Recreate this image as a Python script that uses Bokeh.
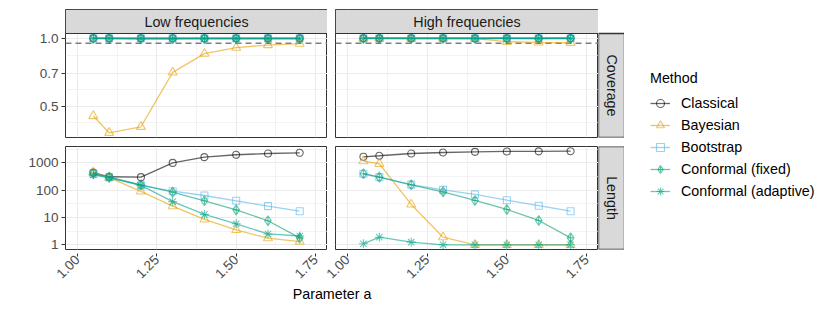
import math
from bokeh.plotting import figure
from bokeh.layouts import row, column, Spacer
from bokeh.models import (FixedTicker, PrintfTickFormatter, Span, Label, Range1d,
                          Legend, LegendItem, LinearScale)
from bokeh.core.properties import value
from bokeh.embed import file_html
from bokeh.resources import INLINE

# ---------------- data ----------------
x_values = [1.05, 1.1, 1.2, 1.3, 1.4, 1.5, 1.6, 1.7]
x_limits = [1.0, 1.75]
x_ticks = [1.0, 1.25, 1.5, 1.75]
x_minor = [1.125, 1.375, 1.625]

methods = ["Classical", "Bayesian", "Bootstrap", "Conformal (fixed)", "Conformal (adaptive)"]
panels = ["Low frequencies", "High frequencies"]
rows_names = ["Coverage", "Length"]

# Coverage, low frequencies
cov_low_classical = [1.0, 1.0, 1.0, 1.0, 1.0, 1.0, 1.0, 1.0]
cov_low_bayesian = [0.453, 0.382, 0.406, 0.706, 0.855, 0.909, 0.933, 0.947]
cov_low_bootstrap = [1.0, 1.0, 1.0, 1.0, 1.0, 1.0, 1.0, 1.0]
cov_low_conf_fixed = [0.998, 0.997, 0.994, 0.995, 0.996, 0.995, 0.996, 0.995]
cov_low_conf_adapt = [0.995, 0.996, 0.993, 0.992, 0.995, 0.994, 0.995, 0.994]
# Coverage, high frequencies
cov_high_classical = [1.0, 1.0, 1.0, 1.0, 1.0, 1.0, 1.0, 1.0]
cov_high_bayesian = [1.0, 1.0, 1.0, 1.0, 0.995, 0.965, 0.958, 0.955]
cov_high_bootstrap = [1.0, 1.0, 1.0, 1.0, 1.0, 1.0, 1.0, 1.0]
cov_high_conf_fixed = [0.998, 0.998, 0.997, 0.998, 0.997, 0.998, 0.997, 0.998]
cov_high_conf_adapt = [0.997, 0.997, 0.996, 0.997, 0.996, 0.997, 0.996, 0.997]
# Length, low frequencies
len_low_classical = [440, 310, 300, 1000, 1620, 1980, 2200, 2340]
len_low_bayesian = [450, 290, 90, 26, 8.5, 3.5, 1.75, 1.32]
len_low_bootstrap = [400, 300, 150, 92, 64, 41, 26, 17]
len_low_conf_fixed = [400, 300, 158, 85, 41, 19, 7.6, 1.8]
len_low_conf_adapt = [365, 280, 150, 38, 13, 5.9, 2.5, 2.1]
# Length, high frequencies
len_high_classical = [1670, 1820, 2200, 2400, 2530, 2620, 2640, 2680]
len_high_bayesian = [1150, 930, 30, 1.9, 1.0, 1.0, 1.0, 1.0]
len_high_bootstrap = [400, 300, 160, 103, 70, 43, 27, 17]
len_high_conf_fixed = [400, 300, 158, 87, 42, 19.7, 7.8, 1.8]
len_high_conf_adapt = [1.09, 1.9, 1.25, 1.0, 1.0, 1.0, 1.0, 1.0]

nominal_level = 0.95
cov_ticks = [0.5, 0.7, 1.0]
len_ticks = [1, 10, 100, 1000]

colors = ["#000000", "#E69F00", "#56B4E9", "#009E73", "#00A58A"]
markers = ["circle", "triangle", "square", "diamond_cross", "asterisk"]
marker_sizes = [7, 9, 7, 10, 9]
ALPHA = 0.6

FONT = "Liberation Sans"

data = {
    ("Coverage", 0): [cov_low_classical, cov_low_bayesian, cov_low_bootstrap, cov_low_conf_fixed, cov_low_conf_adapt],
    ("Coverage", 1): [cov_high_classical, cov_high_bayesian, cov_high_bootstrap, cov_high_conf_fixed, cov_high_conf_adapt],
    ("Length", 0): [len_low_classical, len_low_bayesian, len_low_bootstrap, len_low_conf_fixed, len_low_conf_adapt],
    ("Length", 1): [len_high_classical, len_high_bayesian, len_high_bootstrap, len_high_conf_fixed, len_high_conf_adapt],
}

# ---------------- geometry (pixels) ----------------
LEFT_PAD = 65          # left of low panels (axis labels)
GAP = 8                # between panels
LOW_FW, HIGH_FW = 262, 263
STRIP_W = 26
TOP_PAD = 9
STRIP_H = 24
COV_FH = 104
ROW_GAP = 9
LEN_FH = 103
LEN_MB = 3             # room below the length panels for the lowest y label
XAXIS_H = 33
TITLE_H = 19
AXIS_SHRINK = 5        # low x-axis figure ends a little left of its panel


def log_minor(ticks):
    t = sorted(ticks)
    lg = [math.log10(v) for v in t]
    mids = [10 ** ((lg[i] + lg[i + 1]) / 2) for i in range(len(lg) - 1)]
    lo = 10 ** (lg[0] - (lg[1] - lg[0]) / 2)
    hi = 10 ** (lg[-1] + (lg[-1] - lg[-2]) / 2)
    return [lo] + mids + [hi]


def log_limits(rowname):
    vals = [v for k in (0, 1) for s in data[(rowname, k)] for v in s]
    lo, hi = math.log10(min(vals)), math.log10(max(vals))
    pad = 0.05 * (hi - lo)
    return lo - pad, hi + pad


def x_bounds():
    span = x_limits[1] - x_limits[0]
    return x_limits[0] - 0.05 * span, x_limits[1] + 0.05 * span


def style_axis(ax, tick_out=4, standoff=3):
    ax.axis_line_color = None
    ax.major_tick_line_color = "#333333"
    ax.major_tick_out = tick_out
    ax.major_tick_in = 0
    ax.minor_tick_out = 0
    ax.minor_tick_in = 0
    ax.major_label_text_font = FONT
    ax.major_label_text_font_size = "13.5px"
    ax.major_label_text_color = "#4D4D4D"
    ax.major_label_standoff = standoff


def panel(rowname, col):
    lo, hi = log_limits(rowname)
    show_y = col == 0
    fw = LOW_FW if col == 0 else HIGH_FW
    ml = LEFT_PAD if col == 0 else GAP
    if rowname == "Coverage":
        # frame includes the facet strip on top
        fh = COV_FH + STRIP_H
        top_log = hi + (hi - lo) * STRIP_H / COV_FH
        mt, mb = TOP_PAD, ROW_GAP
    else:
        fh = LEN_FH
        top_log = hi
        mt, mb = 0, LEN_MB
    x0, x1 = x_bounds()
    xr = Range1d(x0, x1)
    kw = {}
    if rowname == "Coverage":
        kw = dict(extra_y_ranges={"strip": Range1d(0, COV_FH + STRIP_H)},
                  extra_y_scales={"strip": LinearScale()})
    p = figure(width=ml + fw, height=mt + fh + mb, x_range=xr,
               y_range=Range1d(10 ** lo, 10 ** top_log), y_axis_type="log",
               x_axis_location=None,
               y_axis_location="left" if show_y else None,
               output_backend="svg", toolbar_location=None,
               min_border_left=ml, min_border_right=0, min_border_top=mt, min_border_bottom=mb,
               **kw)
    p.background_fill_color = "white"
    p.border_fill_color = "white"
    p.outline_line_color = "#333333"
    p.outline_line_width = 1
    yt = cov_ticks if rowname == "Coverage" else len_ticks
    p.xgrid.ticker = FixedTicker(ticks=x_ticks, minor_ticks=x_minor)
    p.ygrid.ticker = FixedTicker(ticks=yt, minor_ticks=log_minor(yt))
    for g in (p.xgrid, p.ygrid):
        g.grid_line_color = "#EBEBEB"
        g.grid_line_width = 1.1
        g.minor_grid_line_color = "#EBEBEB"
        g.minor_grid_line_width = 0.6
    if show_y:
        ax = p.yaxis[0]
        ax.ticker = FixedTicker(ticks=yt)
        ax.formatter = PrintfTickFormatter(format="%.1f" if rowname == "Coverage" else "%d")
        style_axis(ax)
    if rowname == "Coverage":
        p.add_layout(Span(location=nominal_level, dimension="width", line_color="#7F7F7F",
                          line_width=1.4, line_dash="6 4", level="underlay"))
    for i, m in enumerate(methods):
        ys = data[(rowname, col)][i]
        p.line(x_values, ys, line_color=colors[i], line_alpha=ALPHA, line_width=1.3)
        p.scatter(x_values, ys, marker=markers[i], size=marker_sizes[i], fill_color=None,
                  line_color=colors[i], line_alpha=ALPHA, line_width=1.1)
    if rowname == "Coverage":
        p.quad(left=[x0], right=[x1], bottom=[COV_FH], top=[COV_FH + STRIP_H],
               y_range_name="strip", fill_color="#D9D9D9", line_color="#333333", line_width=1)
        p.text(x=[(x0 + x1) / 2], y=[COV_FH + STRIP_H / 2], text=[panels[col]],
               y_range_name="strip", text_align="center", text_baseline="middle",
               text_font=value(FONT), text_font_size="14.3px", text_color="#1A1A1A")
    return p


def x_axis_fig(col):
    """Bottom x axis for a column of panels (1px frame just below the panel)."""
    x0, x1 = x_bounds()
    if col == 0:
        ml, fw = LEFT_PAD, LOW_FW - AXIS_SHRINK
        xr = Range1d(x0, x0 + (x1 - x0) * fw / LOW_FW)
    else:
        ml, fw = GAP + AXIS_SHRINK, HIGH_FW
        xr = Range1d(x0, x1)
    p = figure(width=ml + fw, height=1 + XAXIS_H, x_range=xr, y_range=Range1d(0, 1),
               x_axis_location="below", y_axis_location=None,
               output_backend="svg", toolbar_location=None,
               min_border_left=ml, min_border_right=0, min_border_top=0,
               min_border_bottom=XAXIS_H)
    p.xgrid.visible = False
    p.ygrid.visible = False
    p.outline_line_color = None
    ax = p.xaxis[0]
    ax.ticker = FixedTicker(ticks=x_ticks)
    ax.formatter = PrintfTickFormatter(format="%.2f")
    ax.major_label_orientation = math.pi / 4
    style_axis(ax, tick_out=3, standoff=1)
    return p


def side_strip(text, frame_h, strip_h, mt, mb):
    p = figure(width=STRIP_W, height=mt + frame_h + mb, x_range=Range1d(0, 1),
               y_range=Range1d(0, frame_h),
               x_axis_location=None, y_axis_location=None,
               output_backend="svg", toolbar_location=None,
               min_border_left=0, min_border_right=0, min_border_top=mt, min_border_bottom=mb)
    p.xgrid.visible = False
    p.ygrid.visible = False
    p.background_fill_color = "white"
    p.border_fill_color = "white"
    p.outline_line_color = None
    p.quad(left=[0], right=[1], bottom=[0], top=[strip_h], fill_color="#D9D9D9",
           line_color="#333333", line_width=1.4)
    p.add_layout(Label(x=0.5, y=strip_h / 2, text=text, text_align="center",
                       text_baseline="middle",
                       angle=-math.pi / 2, text_font=FONT, text_font_size="14.3px",
                       text_color="#1A1A1A"))
    return p


# ---------------- layout ----------------
cov_low = panel("Coverage", 0)
cov_high = panel("Coverage", 1)
cov_strip = side_strip(rows_names[0], COV_FH + STRIP_H, COV_FH, TOP_PAD, ROW_GAP)
row_a = row(cov_low, cov_high, cov_strip)

len_low = panel("Length", 0)
len_high = panel("Length", 1)
len_strip = side_strip(rows_names[1], LEN_FH, LEN_FH, 0, LEN_MB)
row_b = row(len_low, len_high, len_strip)

row_c = row(x_axis_fig(0), x_axis_fig(1), Spacer(width=STRIP_W, height=1 + XAXIS_H))

LEFT_W = LEFT_PAD + LOW_FW + GAP + HIGH_FW + STRIP_W
title_fig = figure(width=LEFT_W, height=TITLE_H, x_range=Range1d(0, LEFT_W), y_range=Range1d(0, 1),
                   x_axis_location=None, y_axis_location=None, output_backend="svg",
                   toolbar_location=None, min_border=0)
title_fig.xgrid.visible = False
title_fig.ygrid.visible = False
title_fig.outline_line_color = None
title_fig.add_layout(Label(x=(LEFT_PAD + LEFT_PAD + LOW_FW + GAP + HIGH_FW) / 2, y=0.6,
                           text="Parameter a", text_align="center",
                           text_baseline="middle", text_font=FONT, text_font_size="14.3px",
                           text_color="#000000"))

left_block = column(row_a, row_b, row_c, title_fig)
TOTAL_H = TOP_PAD + STRIP_H + COV_FH + ROW_GAP + LEN_FH + LEN_MB + 1 + XAXIS_H + TITLE_H

leg = figure(width=198, height=TOTAL_H, x_range=Range1d(0, 1), y_range=Range1d(0, 1),
             x_axis_location=None, y_axis_location=None, output_backend="svg",
             toolbar_location=None, min_border=0)
leg.xgrid.visible = False
leg.ygrid.visible = False
leg.outline_line_color = None
items = []
nan = float("nan")
for i, m in enumerate(methods):
    r1 = leg.line([nan], [nan], line_color=colors[i], line_alpha=ALPHA, line_width=1.3)
    r2 = leg.scatter([nan], [nan], marker=markers[i], size=marker_sizes[i] - 1, fill_color=None,
                     line_color=colors[i], line_alpha=ALPHA, line_width=1.1)
    items.append(LegendItem(label=m, renderers=[r1, r2]))
legend = Legend(items=items, location=(26, 103), title="Method",
                title_text_font=FONT, title_text_font_size="14.3px", title_text_font_style="normal",
                title_text_color="#000000", title_standoff=6,
                label_text_font=FONT, label_text_font_size="14.3px", label_text_color="#000000",
                glyph_width=20, glyph_height=22, label_height=22, label_standoff=11,
                spacing=0, padding=0, margin=0, border_line_color=None,
                background_fill_alpha=0)
leg.add_layout(legend, "center")

layout = row(left_block, leg)

open("out.html", "w").write(file_html(layout, INLINE))
